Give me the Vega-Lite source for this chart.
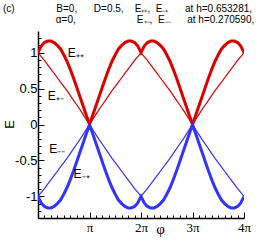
{
  "$schema": "https://vega.github.io/schema/vega-lite/v6.json",
  "autosize": "none",
  "width": 206,
  "height": 187,
  "padding": {"left": 38, "top": 31, "right": 32, "bottom": 27},
  "background": "white",
  "config": {"view": {"stroke": null}},
  "title": {
    "text": ["(c)\u00a0\u00a0\u00a0\u00a0\u00a0\u00a0\u00a0\u00a0\u00a0\u00a0\u00a0\u00a0\u00a0\u00a0\u00a0B=0,\u00a0\u00a0\u00a0\u00a0\u00a0\u00a0D=0.5,\u00a0\u00a0\u00a0\u00a0E₊₊,\u00a0\u00a0E₋₊\u00a0\u00a0\u00a0\u00a0\u00a0\u00a0at\u00a0h=0.653281,", "\u200b\u00a0\u00a0\u00a0\u00a0\u00a0\u00a0\u00a0\u00a0\u00a0\u00a0\u00a0\u00a0\u00a0\u00a0\u00a0\u00a0\u00a0\u00a0\u00a0α=0,\u00a0\u00a0\u00a0\u00a0\u00a0\u00a0\u00a0\u00a0\u00a0\u00a0\u00a0\u00a0\u00a0\u00a0\u00a0\u00a0\u00a0\u00a0\u00a0\u00a0\u00a0\u00a0E₊₋,\u00a0\u00a0E₋₋\u00a0\u00a0\u00a0\u00a0\u00a0\u00a0at\u00a0h=0.270590,"],
    "anchor": "start",
    "frame": "bounds",
    "font": "Liberation Sans",
    "fontSize": 10,
    "fontWeight": "normal",
    "lineHeight": 11,
    "offset": 6,
    "color": "black"
  },
  "data": {"values": [
    {"p": 0, "a": 1, "b": 1, "c": -1, "d": -1},
    {"p": 0.0625, "a": 1.09, "b": 0.945, "c": -0.945, "d": -1.09},
    {"p": 0.125, "a": 1.14, "b": 0.89, "c": -0.89, "d": -1.14},
    {"p": 0.1875, "a": 1.16, "b": 0.83, "c": -0.83, "d": -1.16},
    {"p": 0.25, "a": 1.16, "b": 0.77, "c": -0.77, "d": -1.16},
    {"p": 0.3125, "a": 1.14, "b": 0.71, "c": -0.71, "d": -1.14},
    {"p": 0.375, "a": 1.10, "b": 0.65, "c": -0.65, "d": -1.10},
    {"p": 0.4375, "a": 1.05, "b": 0.59, "c": -0.59, "d": -1.05},
    {"p": 0.5, "a": 0.97, "b": 0.53, "c": -0.53, "d": -0.97},
    {"p": 0.5625, "a": 0.88, "b": 0.47, "c": -0.47, "d": -0.88},
    {"p": 0.625, "a": 0.77, "b": 0.405, "c": -0.405, "d": -0.77},
    {"p": 0.6875, "a": 0.65, "b": 0.34, "c": -0.34, "d": -0.65},
    {"p": 0.75, "a": 0.52, "b": 0.275, "c": -0.275, "d": -0.52},
    {"p": 0.8125, "a": 0.39, "b": 0.21, "c": -0.21, "d": -0.39},
    {"p": 0.875, "a": 0.26, "b": 0.14, "c": -0.14, "d": -0.26},
    {"p": 0.9375, "a": 0.13, "b": 0.07, "c": -0.07, "d": -0.13},
    {"p": 1, "a": 0, "b": 0, "c": 0, "d": 0},
    {"p": 1.0625, "a": 0.13, "b": 0.07, "c": -0.07, "d": -0.13},
    {"p": 1.125, "a": 0.26, "b": 0.14, "c": -0.14, "d": -0.26},
    {"p": 1.1875, "a": 0.39, "b": 0.21, "c": -0.21, "d": -0.39},
    {"p": 1.25, "a": 0.52, "b": 0.275, "c": -0.275, "d": -0.52},
    {"p": 1.3125, "a": 0.65, "b": 0.34, "c": -0.34, "d": -0.65},
    {"p": 1.375, "a": 0.77, "b": 0.405, "c": -0.405, "d": -0.77},
    {"p": 1.4375, "a": 0.88, "b": 0.47, "c": -0.47, "d": -0.88},
    {"p": 1.5, "a": 0.97, "b": 0.53, "c": -0.53, "d": -0.97},
    {"p": 1.5625, "a": 1.05, "b": 0.59, "c": -0.59, "d": -1.05},
    {"p": 1.625, "a": 1.10, "b": 0.65, "c": -0.65, "d": -1.10},
    {"p": 1.6875, "a": 1.14, "b": 0.71, "c": -0.71, "d": -1.14},
    {"p": 1.75, "a": 1.16, "b": 0.77, "c": -0.77, "d": -1.16},
    {"p": 1.8125, "a": 1.16, "b": 0.83, "c": -0.83, "d": -1.16},
    {"p": 1.875, "a": 1.14, "b": 0.89, "c": -0.89, "d": -1.14},
    {"p": 1.9375, "a": 1.09, "b": 0.945, "c": -0.945, "d": -1.09},
    {"p": 2, "a": 1, "b": 1, "c": -1, "d": -1},
    {"p": 2.0625, "a": 1.09, "b": 0.945, "c": -0.945, "d": -1.09},
    {"p": 2.125, "a": 1.14, "b": 0.89, "c": -0.89, "d": -1.14},
    {"p": 2.1875, "a": 1.16, "b": 0.83, "c": -0.83, "d": -1.16},
    {"p": 2.25, "a": 1.16, "b": 0.77, "c": -0.77, "d": -1.16},
    {"p": 2.3125, "a": 1.14, "b": 0.71, "c": -0.71, "d": -1.14},
    {"p": 2.375, "a": 1.10, "b": 0.65, "c": -0.65, "d": -1.10},
    {"p": 2.4375, "a": 1.05, "b": 0.59, "c": -0.59, "d": -1.05},
    {"p": 2.5, "a": 0.97, "b": 0.53, "c": -0.53, "d": -0.97},
    {"p": 2.5625, "a": 0.88, "b": 0.47, "c": -0.47, "d": -0.88},
    {"p": 2.625, "a": 0.77, "b": 0.405, "c": -0.405, "d": -0.77},
    {"p": 2.6875, "a": 0.65, "b": 0.34, "c": -0.34, "d": -0.65},
    {"p": 2.75, "a": 0.52, "b": 0.275, "c": -0.275, "d": -0.52},
    {"p": 2.8125, "a": 0.39, "b": 0.21, "c": -0.21, "d": -0.39},
    {"p": 2.875, "a": 0.26, "b": 0.14, "c": -0.14, "d": -0.26},
    {"p": 2.9375, "a": 0.13, "b": 0.07, "c": -0.07, "d": -0.13},
    {"p": 3, "a": 0, "b": 0, "c": 0, "d": 0},
    {"p": 3.0625, "a": 0.13, "b": 0.07, "c": -0.07, "d": -0.13},
    {"p": 3.125, "a": 0.26, "b": 0.14, "c": -0.14, "d": -0.26},
    {"p": 3.1875, "a": 0.39, "b": 0.21, "c": -0.21, "d": -0.39},
    {"p": 3.25, "a": 0.52, "b": 0.275, "c": -0.275, "d": -0.52},
    {"p": 3.3125, "a": 0.65, "b": 0.34, "c": -0.34, "d": -0.65},
    {"p": 3.375, "a": 0.77, "b": 0.405, "c": -0.405, "d": -0.77},
    {"p": 3.4375, "a": 0.88, "b": 0.47, "c": -0.47, "d": -0.88},
    {"p": 3.5, "a": 0.97, "b": 0.53, "c": -0.53, "d": -0.97},
    {"p": 3.5625, "a": 1.05, "b": 0.59, "c": -0.59, "d": -1.05},
    {"p": 3.625, "a": 1.10, "b": 0.65, "c": -0.65, "d": -1.10},
    {"p": 3.6875, "a": 1.14, "b": 0.71, "c": -0.71, "d": -1.14},
    {"p": 3.75, "a": 1.16, "b": 0.77, "c": -0.77, "d": -1.16},
    {"p": 3.8125, "a": 1.16, "b": 0.83, "c": -0.83, "d": -1.16},
    {"p": 3.875, "a": 1.14, "b": 0.89, "c": -0.89, "d": -1.14},
    {"p": 3.9375, "a": 1.09, "b": 0.945, "c": -0.945, "d": -1.09},
    {"p": 4, "a": 1, "b": 1, "c": -1, "d": -1}
  ]},
  "encoding": {
    "x": {
      "field": "p", "type": "quantitative",
      "scale": {"domain": [0, 4], "nice": false, "zero": false},
      "axis": {
        "values": [0, 0.125, 0.25, 0.375, 0.5, 0.625, 0.75, 0.875, 1, 1.125, 1.25, 1.375, 1.5, 1.625, 1.75, 1.875, 2, 2.125, 2.25, 2.375, 2.5, 2.625, 2.75, 2.875, 3, 3.125, 3.25, 3.375, 3.5, 3.625, 3.75, 3.875, 4],
        "labelExpr": "datum.value == 1 ? 'π' : (datum.value == 2 || datum.value == 3 || datum.value == 4) ? datum.value + 'π' : ''",
        "grid": false,
        "domainColor": "black",
        "domainWidth": 1.5,
        "tickColor": "black",
        "tickWidth": 1,
        "tickSize": {"condition": {"test": "datum.value % 1 === 0", "value": -6}, "value": -3},
        "labelPadding": 9,
        "labelFont": "Liberation Serif",
        "labelFontSize": 13,
        "labelColor": "black",
        "labelFlush": false,
        "labelOverlap": false,
        "title": "φ",
        "titleFont": "Liberation Serif",
        "titleFontSize": 15,
        "titleFontWeight": "normal",
        "titleColor": "black",
        "titleX": 122,
        "titleY": 15,
        "titleBaseline": "alphabetic"
      }
    },
    "y": {
      "field": "E", "type": "quantitative",
      "scale": {"domain": [-1.3, 1.3], "nice": false, "zero": false},
      "axis": {
        "values": [-1.2, -1.1, -1, -0.9, -0.8, -0.7, -0.6, -0.5, -0.4, -0.3, -0.2, -0.1, 0, 0.1, 0.2, 0.3, 0.4, 0.5, 0.6, 0.7, 0.8, 0.9, 1, 1.1, 1.2],
        "labelExpr": "(datum.value == 1 || datum.value == 0.5 || datum.value == 0 || datum.value == -0.5 || datum.value == -1) ? '' + datum.value : ''",
        "grid": false,
        "domainColor": "black",
        "domainWidth": 1.5,
        "tickColor": "black",
        "tickWidth": 1,
        "tickSize": {"condition": {"test": "datum.value == 1 || datum.value == 0.5 || datum.value == 0 || datum.value == -0.5 || datum.value == -1", "value": -6}, "value": -3},
        "labelPadding": 7,
        "labelFont": "Liberation Sans",
        "labelFontSize": 13,
        "labelColor": "black",
        "labelFlush": false,
        "labelOverlap": false,
        "title": "E",
        "titleFont": "Liberation Sans",
        "titleFontSize": 13,
        "titleFontWeight": "normal",
        "titleColor": "black",
        "titleX": -29,
        "titleY": 93,
        "titleAlign": "center",
        "titleBaseline": "middle"
      }
    }
  },
  "layer": [
    {
      "transform": [{"fold": ["a", "d"], "as": ["s", "E"]}],
      "mark": {"type": "line", "clip": true, "strokeWidth": 3},
      "encoding": {
        "y": {"field": "E", "type": "quantitative"},
        "detail": {"field": "s"},
        "color": {"field": "s", "type": "nominal", "scale": {"domain": ["a", "b", "c", "d"], "range": ["#dd0000", "#dd0000", "#3333ff", "#3333ff"]}, "legend": null}
      }
    },
    {
      "transform": [{"fold": ["b", "c"], "as": ["s", "E"]}],
      "mark": {"type": "line", "clip": true, "strokeWidth": 1.2},
      "encoding": {
        "y": {"field": "E", "type": "quantitative"},
        "detail": {"field": "s"},
        "color": {"field": "s", "type": "nominal", "scale": {"domain": ["a", "b", "c", "d"], "range": ["#dd0000", "#dd0000", "#3333ff", "#3333ff"]}, "legend": null}
      }
    },
    {
      "data": {"values": [
        {"p": 0.577, "E": 1.0, "t": "E₊₊"},
        {"p": 0.19, "E": 0.39, "t": "E₊₋"},
        {"p": 0.22, "E": -0.34, "t": "E₋₋"},
        {"p": 0.69, "E": -0.69, "t": "E₋₊"}
      ]},
      "mark": {"type": "text", "align": "left", "baseline": "middle", "font": "Liberation Sans", "fontSize": 12, "color": "black"},
      "encoding": {
        "y": {"field": "E", "type": "quantitative"},
        "text": {"field": "t"}
      }
    }
  ]
}
